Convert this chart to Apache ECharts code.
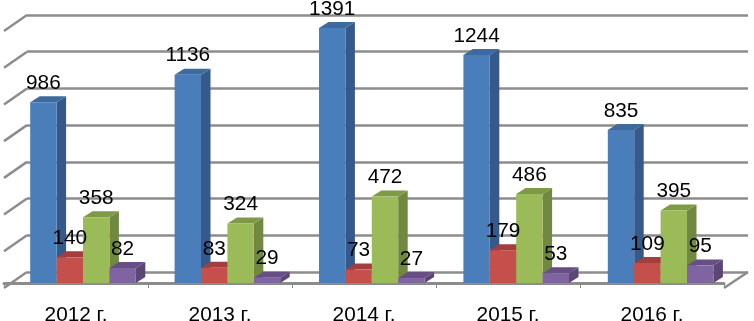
<!DOCTYPE html>
<html><head><meta charset="utf-8">
<style>html,body{margin:0;padding:0;background:#fff}#c{width:754px;height:321px}</style>
<script src="https://cdn.jsdelivr.net/npm/echarts@6/dist/echarts.min.js"></script>
</head><body><div id="c"></div>
<script>
const categories = ['2012 г.', '2013 г.', '2014 г.', '2015 г.', '2016 г.'];
const seriesA = [986, 1136, 1391, 1244, 835];
const seriesB = [140, 83, 73, 179, 109];
const seriesC = [358, 324, 472, 486, 395];
const seriesD = [82, 29, 27, 53, 95];
const gridValues = [0, 200, 400, 600, 800, 1000, 1200, 1400];

const palette = [
  {front: '#4A7EBB', side: '#35598A', top: '#3E6A9E'},
  {front: '#C44F4B', side: '#8F3A38', top: '#A23F3C'},
  {front: '#9BBB59', side: '#70883F', top: '#7F9A47'},
  {front: '#8064A2', side: '#5B4775', top: '#674F85'}
];
const BAR_W = 26.4, STEP = 26.4, DX = 9.5, DY = -6, START = -45.8;
const FONT = '"Liberation Sans", Arial, sans-serif';

function barSeries(values, idx) {
  const c = palette[idx];
  return {
    type: 'custom', xAxisIndex: 1, yAxisIndex: 1, z: 5,
    data: values.map((v, i) => [i, v]),
    renderItem(params, api) {
      const i = api.value(0), v = api.value(1);
      const base = api.coord([i, 0]), top = api.coord([i, v]);
      const x = base[0] + api.value(0) * 0.4 + START + idx * STEP;
      const y0 = base[1], y1 = top[1];
      return {type: 'group', children: [
        {type: 'polygon', shape: {points: [[x + BAR_W, y0], [x + BAR_W + DX, y0 + DY], [x + BAR_W + DX, y1 + DY], [x + BAR_W, y1]]}, style: {fill: c.side}},
        {type: 'polygon', shape: {points: [[x, y1], [x + BAR_W, y1], [x + BAR_W + DX, y1 + DY], [x + DX, y1 + DY]]}, style: {fill: c.top}},
        {type: 'rect', shape: {x: x, y: y1, width: BAR_W, height: y0 - y1}, style: {fill: c.front}},
        {type: 'text', z2: 100, style: {x: x + BAR_W / 2, y: y1 - 19, text: String(v), fill: '#000', font: '20.8px ' + FONT, align: 'center', verticalAlign: 'middle'}}
      ]};
    }
  };
}

const option = {
  animation: false,
  backgroundColor: '#fff',
  grid: [
    {left: 27, right: 6, top: 15, bottom: 49, outerBoundsMode: 'none'},
    {left: 4, right: 30, top: 26.3, bottom: 38, outerBoundsMode: 'none'}
  ],
  xAxis: [
    {gridIndex: 0, type: 'value', min: 0, max: 1, show: false},
    {gridIndex: 1, type: 'category', data: categories, offset: 5,
     axisLine: {lineStyle: {color: '#8C8C8C', width: 3}},
     axisTick: {show: true, alignWithLabel: false, length: 5, lineStyle: {color: '#8C8C8C', width: 1}},
     axisLabel: {color: '#000', fontSize: 20.8, fontFamily: FONT, margin: 16.5, interval: 0}}
  ],
  yAxis: [
    {gridIndex: 0, type: 'value', min: 0, max: 1400, interval: 200,
     axisLine: {show: false}, axisTick: {show: false}, axisLabel: {show: false},
     splitLine: {show: true, lineStyle: {color: '#8C8C8C', width: 2.5}}},
    {gridIndex: 1, type: 'value', min: 0, max: 1400, interval: 200, show: false, splitLine: {show: false}}
  ],
  series: [
    {
      type: 'custom', xAxisIndex: 0, yAxisIndex: 0, z: 3, silent: true,
      data: gridValues.map(v => [0, v]),
      renderItem(params, api) {
        const p = api.coord([0, api.value(1)]);
        return {type: 'line', shape: {x1: p[0], y1: p[1], x2: p[0] - 23, y2: p[1] + 16},
          style: {stroke: '#8C8C8C', lineWidth: 2.5}};
      }
    },
    {
      type: 'custom', xAxisIndex: 0, yAxisIndex: 0, z: 3, silent: true,
      data: [[1, 0]],
      renderItem(params, api) {
        const p = api.coord([1, 0]);
        return {type: 'line', shape: {x1: p[0], y1: p[1], x2: p[0] - 24, y2: p[1] + 16},
          style: {stroke: '#8C8C8C', lineWidth: 2.5}};
      }
    },
    barSeries(seriesA, 0), barSeries(seriesB, 1), barSeries(seriesC, 2), barSeries(seriesD, 3)
  ]
};
echarts.init(document.getElementById('c'), null, {renderer: 'canvas'}).setOption(option);
</script></body></html>
